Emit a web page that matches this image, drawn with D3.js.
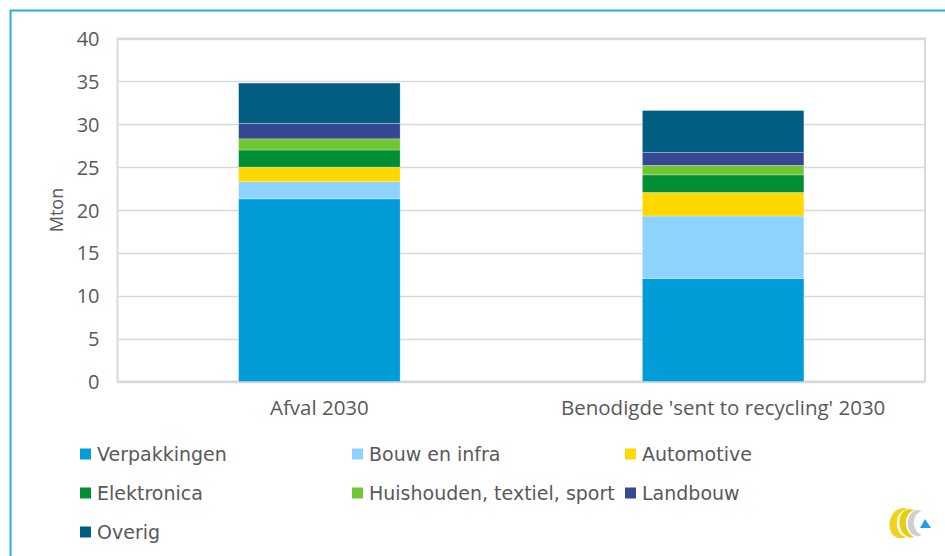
<!DOCTYPE html>
<html><head><meta charset="utf-8">
<script src="https://cdn.jsdelivr.net/npm/d3@7"></script>
<style>body{margin:0;background:#fff;} svg{display:block;}</style>
</head><body>
<svg id="c" width="945" height="556"></svg>
<script>
const categories = ["Afval 2030", "Benodigde 'sent to recycling' 2030"];
const seriesNames = ["Verpakkingen","Bouw en infra","Automotive","Elektronica","Huishouden, textiel, sport","Landbouw","Overig"];
const seriesColors = ["#029cd8","#8ed3fe","#ffd800","#008f35","#71c733","#374893","#015e82"];
const verpakkingen = [21.3, 12.0];
const bouwEnInfra = [2.0, 7.3];
const automotive = [1.7, 2.75];
const elektronica = [2.0, 2.05];
const huishouden = [1.3, 1.1];
const landbouw = [1.8, 1.5];
const overig = [4.7, 4.9];
const yTicks = [0,5,10,15,20,25,30,35,40];
const yTitle = "Mton";

const seriesValues = [verpakkingen,bouwEnInfra,automotive,elektronica,huishouden,landbouw,overig];
const rows = categories.map((c,i)=>{const r={cat:c}; seriesNames.forEach((s,j)=>r[s]=seriesValues[j][i]); return r;});
const stack = d3.stack().keys(seriesNames)(rows);

const svg = d3.select("#c");
const L=117.5, R=925, T=38.5, B=381.5;
const x = d3.scaleBand().domain(categories).range([L,R]).paddingInner(0.6).paddingOuter(0.3);
const y = d3.scaleLinear().domain([0,40]).range([B,T]);

// outer border
svg.append("path").attr("d","M10.5,556 L10.5,10.5 L945,10.5").attr("fill","none").attr("stroke","#2aa9e2").attr("stroke-width",2);

// gridlines
svg.append("g").selectAll("line").data(yTicks).join("line")
  .attr("x1",L).attr("x2",R).attr("y1",d=>Math.round(y(d))+0.5).attr("y2",d=>Math.round(y(d))+0.5)
  .attr("stroke","#d9d9d9").attr("stroke-width",1.5);
// plot area border
svg.append("rect").attr("x",L).attr("y",T).attr("width",R-L).attr("height",B-T)
  .attr("fill","none").attr("stroke","#d9d9d9").attr("stroke-width",2);

// bars
svg.append("g").selectAll("g").data(stack).join("g")
  .attr("fill",(d,i)=>seriesColors[i])
  .selectAll("rect").data(d=>d).join("rect")
  .attr("x",d=>x(d.data.cat)).attr("width",x.bandwidth())
  .attr("y",d=>y(d[1])).attr("height",d=>y(d[0])-y(d[1]))
  .attr("stroke","rgba(255,255,255,0.35)").attr("stroke-width",0.75);

// y axis labels
const yAxis = d3.axisLeft(y).tickValues(yTicks).tickSize(0).tickPadding(0);
const gy = svg.append("g").attr("transform",`translate(${L-18},0)`).call(yAxis);
gy.select(".domain").remove();
gy.selectAll("text").attr("font-family","'Open Sans', sans-serif").attr("font-size",20).attr("fill","#595959").attr("dy","0.35em");

// x axis labels
const xAxis = d3.axisBottom(x).tickSize(0).tickPadding(0);
const gx = svg.append("g").attr("transform",`translate(0,408)`).call(xAxis);
gx.select(".domain").remove();
gx.selectAll("text").attr("font-family","'Open Sans', sans-serif").attr("font-size",20.5).attr("fill","#595959").attr("y",0).attr("dy","0.35em");

// y title
svg.append("text").attr("transform",`translate(57,210) rotate(-90)`).attr("text-anchor","middle").attr("dy","0.35em")
  .attr("font-family","'Open Sans', sans-serif").attr("font-size",18).attr("fill","#595959").text(yTitle);

// legend
const colX=[80,352,625], rowY=[454,493,532];
const lg = svg.append("g").selectAll("g").data(seriesNames).join("g")
  .attr("transform",(d,i)=>`translate(${colX[i%3]},${rowY[Math.floor(i/3)]})`);
lg.append("rect").attr("x",0).attr("y",-5.5).attr("width",11).attr("height",11).attr("fill",(d,i)=>seriesColors[i]);
lg.append("text").attr("x",17).attr("y",0).attr("dy","0.36em").attr("font-family","'DejaVu Sans', sans-serif")
  .attr("font-size",19).attr("fill","#595959").text(d=>d);

// logo
const logo = svg.append("g").attr("transform","translate(889,507)");
logo.append("path").attr("d","M15,1 C4,1 -1,13 1,22 C3,31 12,33 17,30 C10,28 7,21 8,14 C9,7 13,3 19,2 Z").attr("fill","#f2d21b");
logo.append("path").attr("d","M20,2 C12,3 9,12 11,20 C13,28 20,32 25,30 C19,27 16,20 17,13 C18,8 21,4 26,3 Z").attr("fill","#e8cc10");
logo.append("path").attr("d","M28,3 C21,4 18,12 19,19 C20,27 27,31 33,28 C27,26 24,19 25,13 C26,8 29,5 33,4 Z").attr("fill","#cfcfcf");
logo.append("path").attr("d","M36,12 L42,21 L31,21 Z").attr("fill","#1ea1e0");
</script>
</body></html>
